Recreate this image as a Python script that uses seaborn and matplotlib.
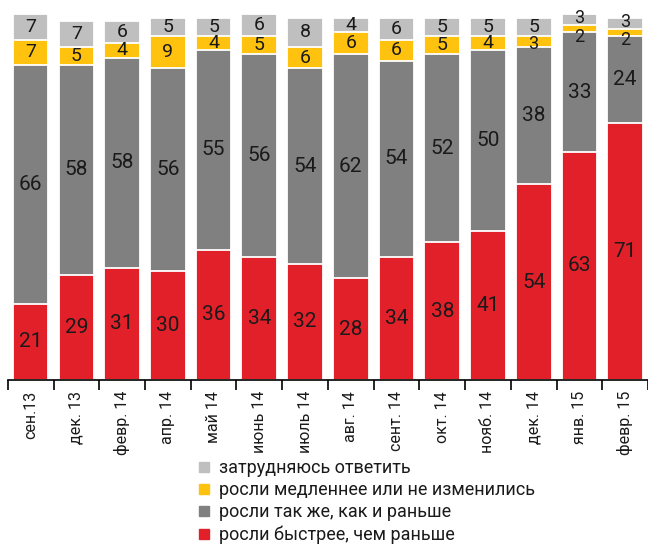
import matplotlib
matplotlib.use("Agg")
import matplotlib.pyplot as plt
import seaborn as sns
import pandas as pd
import numpy as np
from matplotlib.lines import Line2D

categories = ["сен.13", "дек. 13", "февр. 14", "апр. 14", "май 14", "июнь 14", "июль 14",
              "авг. 14", "сент. 14", "окт. 14", "нояб. 14", "дек. 14", "янв. 15", "февр. 15"]
faster = [21, 29, 31, 30, 36, 34, 32, 28, 34, 38, 41, 54, 63, 71]
same = [66, 58, 58, 56, 55, 56, 54, 62, 54, 52, 50, 38, 33, 24]
slower = [7, 5, 4, 9, 4, 5, 6, 6, 6, 5, 4, 3, 2, 2]
hard = [7, 7, 6, 5, 5, 6, 8, 4, 6, 5, 5, 5, 3, 3]

series_names = ["росли быстрее, чем раньше", "росли так же, как и раньше",
                "росли медленнее или не изменились", "затрудняюсь ответить"]
colors = ["#E2202A", "#808080", "#FFC20E", "#BFBFBF"]

sns.set_theme(style="white")
plt.rcParams["font.family"] = ["Roboto", "DejaVu Sans"]

fig = plt.figure(figsize=(6.48, 5.45), dpi=100)
ax = fig.add_axes([0.012, 0.303, 0.988, 0.679])

layers = [faster, same, slower, hard]
cum = np.cumsum(np.array(layers), axis=0)
for i in range(3, -1, -1):
    df = pd.DataFrame({"cat": categories, "val": cum[i]})
    sns.barplot(data=df, x="cat", y="val", color=colors[i], saturation=1,
                width=0.78, edgecolor="white", linewidth=1.3, ax=ax)

for i, layer in enumerate(layers):
    base = cum[i] - np.array(layer)
    for j, v in enumerate(layer):
        y = base[j] + v / 2
        fs = 15 if v >= 10 else 14
        if v <= 3:
            fs = 13
            if i == 2:
                y -= 2.2 if v <= 2 else 0.8
            elif i == 3:
                y += 0.4
        ax.text(j, y, str(v), ha="center", va="center",
                fontsize=fs, color="#1a1a1a")

ax.set_xlim(-0.5, 13.5)
ax.set_ylim(0, 102.2)
ax.set_xlabel("")
ax.set_ylabel("")
ax.set_yticks([])
for s in ["top", "right", "left"]:
    ax.spines[s].set_visible(False)
ax.spines["bottom"].set_color("black")
ax.spines["bottom"].set_linewidth(1.2)
ax.set_xticks(range(len(categories)))
ax.set_xticklabels(categories, rotation=90, fontsize=11.5, color="#1a1a1a")
ax.tick_params(axis="x", which="major", length=0, pad=8)
ax.set_xticks(np.arange(-0.5, 14, 1), minor=True)
ax.tick_params(axis="x", which="minor", length=7, width=1.2, color="black", direction="out", bottom=True)

handles = [Line2D([0], [0], marker="s", linestyle="", markersize=7,
                  markerfacecolor=colors[i], markeredgecolor=colors[i]) for i in range(3, -1, -1)]
labels = [series_names[i] for i in range(3, -1, -1)]
fig.legend(handles, labels, loc="upper left", bbox_to_anchor=(0.307, 0.157), frameon=False,
           fontsize=13, handlelength=0.6, handletextpad=0.5, labelspacing=0.22,
           borderpad=0, borderaxespad=0, labelcolor="#1a1a1a")

fig.savefig("out.png", dpi=100)
